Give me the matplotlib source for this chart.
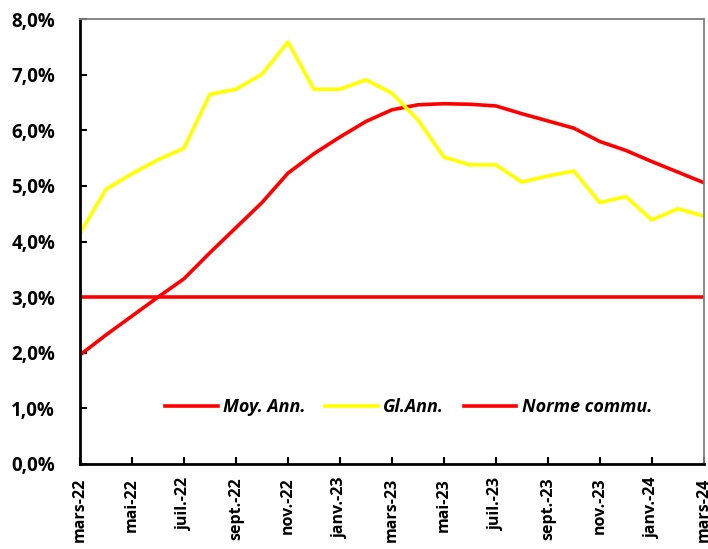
import matplotlib.pyplot as plt
from matplotlib.ticker import FuncFormatter
import numpy as np

# Monthly series, mars-22 .. mars-24
months = ["mars-22", "avr.-22", "mai-22", "juin-22", "juil.-22", "août-22", "sept.-22",
          "oct.-22", "nov.-22", "déc.-22", "janv.-23", "févr.-23", "mars-23", "avr.-23",
          "mai-23", "juin-23", "juil.-23", "août-23", "sept.-23", "oct.-23", "nov.-23",
          "déc.-23", "janv.-24", "févr.-24", "mars-24"]
moy_ann = [1.96, 2.32, 2.66, 3.00, 3.33, 3.80, 4.25, 4.70, 5.23, 5.58, 5.88, 6.16, 6.37,
           6.46, 6.48, 6.47, 6.44, 6.30, 6.17, 6.04, 5.80, 5.64, 5.44, 5.25, 5.06]
gl_ann = [4.15, 4.94, 5.22, 5.47, 5.68, 6.65, 6.74, 7.01, 7.59, 6.74, 6.74, 6.91, 6.67,
          6.19, 5.52, 5.38, 5.38, 5.07, 5.18, 5.27, 4.70, 4.81, 4.39, 4.59, 4.46]
norme = [3.0] * len(months)

plt.rcParams['font.family'] = ['Open Sans', 'DejaVu Sans']

fig = plt.figure(figsize=(7.08, 5.49), dpi=100)
ax = fig.add_axes([0.113, 0.155, 0.881, 0.81])

x = np.arange(len(months))
ax.plot(x, moy_ann, color="#ff0000", lw=2.6, label="Moy. Ann.")
ax.plot(x, gl_ann, color="#ffff00", lw=2.6, label="Gl.Ann.")
ax.plot(x, norme, color="#ff0000", lw=2.6, label="Norme commu.")

ax.set_xlim(0, len(months) - 1)
ax.set_ylim(0, 8)
ax.set_yticks(np.arange(0, 9, 1))
ax.yaxis.set_major_formatter(FuncFormatter(lambda v, p: f"{v:.1f}%".replace(".", ",")))
ax.set_xticks(x[::2])
ax.set_xticklabels(months[::2], rotation=90, fontweight="bold", fontsize=11.5)
for lbl in ax.get_yticklabels():
    lbl.set_fontweight("bold")
    lbl.set_fontsize(13.5)

ax.tick_params(direction="in", length=5, width=1.5)
ax.tick_params(axis="y", pad=18)
ax.tick_params(axis="x", pad=10)
for s in ["left", "bottom"]:
    ax.spines[s].set_linewidth(2)
    ax.spines[s].set_color("black")
for s in ["top", "right"]:
    ax.spines[s].set_linewidth(1.3)
    ax.spines[s].set_color("#808080")

leg = ax.legend(loc="center", bbox_to_anchor=(0.527, 0.128), ncol=3, frameon=False,
                prop={"weight": "bold", "style": "italic", "size": 13},
                handlelength=2.9, handletextpad=0.3, columnspacing=1.1)

fig.savefig("out.png", dpi=100)
